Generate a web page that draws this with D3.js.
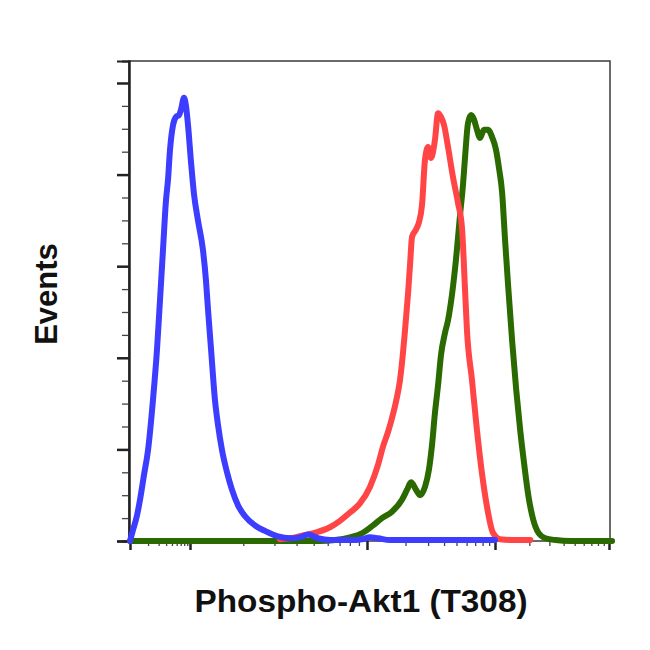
<!DOCTYPE html>
<html>
<head>
<meta charset="utf-8">
<script src="https://cdn.jsdelivr.net/npm/d3@7"></script>
<style>
  html, body { margin: 0; padding: 0; background: #fff; }
  svg { display: block; }
</style>
</head>
<body>
<div id="chart"></div>
<script>
// ---- Data (x: log10 fluorescence intensity, y: event count) ----
const xDecades = [0, 1, 2, 3, 4];
const yMajorTicks = [0, 100, 200, 300, 400, 500];

const blueLogX = [0, 0.05, 0.117, 0.167, 0.233, 0.3, 0.383, 0.45, 0.5, 0.55, 0.6, 0.633, 0.667, 0.717, 0.767, 0.817, 0.85, 0.9, 0.933, 0.967, 1.006, 1.023, 1.045, 1.073, 1.09, 1.102, 1.119, 1.141, 1.158, 1.181, 1.209, 1.237, 1.271, 1.311, 1.367, 1.424, 1.497, 1.565, 1.621, 1.667, 1.723, 1.791, 1.904, 1.972, 2.023, 2.086, 2.18, 3.0];
const blueCount = [0, 12, 28, 45, 72, 99, 154, 209, 263, 318, 372, 394, 427, 454, 463, 465, 471, 484, 475, 454, 413, 378, 350, 318, 285, 252, 209, 154, 127, 99, 75, 56, 39, 27, 17, 11, 5, 3, 4, 7, 3, 1, 1, 2, 4, 3, 1, 1];

const redLogX = [1.508, 1.593, 1.661, 1.723, 1.791, 1.847, 1.904, 1.96, 2.023, 2.086, 2.125, 2.164, 2.195, 2.234, 2.258, 2.273, 2.297, 2.32, 2.336, 2.352, 2.383, 2.406, 2.43, 2.453, 2.477, 2.5, 2.531, 2.555, 2.578, 2.602, 2.633, 2.672, 2.711, 2.742, 2.766, 2.781, 2.82, 2.859, 2.898, 2.938, 2.984, 3.044, 3.177, 3.31];
const redCount = [2, 4, 7, 10, 15, 22, 31, 41, 59, 83, 103, 119, 134, 157, 176, 194, 230, 269, 301, 332, 340, 348, 367, 416, 430, 418, 438, 467, 463, 454, 430, 397, 369, 342, 274, 230, 176, 121, 74, 37, 9, 2, 1, 1];

const greenLogX = [0, 1.734, 1.819, 1.904, 1.977, 2.047, 2.117, 2.195, 2.273, 2.313, 2.344, 2.383, 2.414, 2.453, 2.484, 2.508, 2.531, 2.555, 2.578, 2.609, 2.633, 2.664, 2.695, 2.727, 2.75, 2.766, 2.789, 2.813, 2.836, 2.859, 2.883, 2.914, 2.945, 2.977, 3.009, 3.035, 3.062, 3.088, 3.115, 3.15, 3.186, 3.221, 3.257, 3.292, 3.336, 3.381, 3.442, 3.531, 3.664, 4.027];
const greenCount = [0, 0, 1, 4, 9, 17, 25, 32, 45, 56, 64, 56, 50, 59, 78, 105, 140, 170, 203, 227, 241, 269, 307, 356, 389, 419, 456, 465, 460, 449, 440, 449, 449, 441, 427, 407, 381, 329, 279, 219, 165, 121, 83, 50, 23, 9, 3, 1, 0, 0];

const xLabel = "Phospho-Akt1 (T308)";
const yLabel = "Events";

// ---- Layout ----
const W = 650, H = 650;
const frame = { left: 129, right: 610, top: 61, bottom: 541 };

const svg = d3.select("#chart").append("svg")
  .attr("width", W).attr("height", H);

// piecewise (display-compressed) log axis
const x = d3.scaleLinear()
  .domain(xDecades)
  .range([130, 190, 367, 495, 609]);
const y = d3.scaleLinear()
  .domain([0, 524])
  .range([frame.bottom, frame.top]);

// ---- Frame ----
svg.append("rect")
  .attr("x", frame.left).attr("y", frame.top)
  .attr("width", frame.right - frame.left)
  .attr("height", frame.bottom - frame.top)
  .attr("fill", "none").attr("stroke", "#3a3a3a").attr("stroke-width", 1.5);

// ---- Y axis ticks ----
const yMinor = d3.range(0, 525, 25).filter(v => !yMajorTicks.includes(v));
const yAxisMajor = d3.axisLeft(y).tickValues(yMajorTicks).tickSize(12).tickFormat("");
const yAxisMinor = d3.axisLeft(y).tickValues(yMinor).tickSize(7).tickFormat("");
const gyMinor = svg.append("g").attr("transform", `translate(${frame.left},0)`).call(yAxisMinor);
const gyMajor = svg.append("g").attr("transform", `translate(${frame.left},0)`).call(yAxisMajor);
gyMinor.selectAll(".tick line").attr("stroke", "#444").attr("stroke-width", 1.3);
gyMajor.selectAll(".tick line").attr("stroke", "#222").attr("stroke-width", 2.5);
[gyMinor, gyMajor].forEach(g => g.select(".domain").attr("stroke", "#222").attr("stroke-width", 2));

// ---- X axis ticks (log decades with minors) ----
const xMinor = [];
xDecades.slice(0, -1).forEach(d => {
  for (let k = 2; k <= 9; k++) xMinor.push(d + Math.log10(k));
});
const xAxisMajor = d3.axisBottom(x).tickValues(xDecades).tickSize(9).tickFormat("");
const xAxisMinor = d3.axisBottom(x).tickValues(xMinor).tickSize(5).tickFormat("");
const gxMinor = svg.append("g").attr("transform", `translate(0,${frame.bottom})`).call(xAxisMinor);
const gxMajor = svg.append("g").attr("transform", `translate(0,${frame.bottom})`).call(xAxisMajor);
gxMinor.selectAll(".tick line").attr("stroke", "#444").attr("stroke-width", 1.3);
gxMajor.selectAll(".tick line").attr("stroke", "#222").attr("stroke-width", 2.5);
[gxMinor, gxMajor].forEach(g => g.select(".domain").remove());

// ---- Histograms ----
const line = d3.line()
  .x(d => x(d[0]))
  .y(d => y(d[1]))
  .curve(d3.curveMonotoneX);

const series = [
  { xs: greenLogX, ys: greenCount, color: "#2b6a00" },
  { xs: redLogX, ys: redCount, color: "#ff4545" },
  { xs: blueLogX, ys: blueCount, color: "#3d3dff" }
];
series.forEach(s => {
  const pts = s.xs.map((v, i) => [v, s.ys[i]]);
  svg.append("path")
    .datum(pts)
    .attr("d", line)
    .attr("fill", "none")
    .attr("stroke", s.color)
    .attr("stroke-width", 6)
    .attr("stroke-linejoin", "round")
    .attr("stroke-linecap", "round");
});

// ---- Labels ----
svg.append("text")
  .attr("x", 361).attr("y", 612)
  .attr("text-anchor", "middle")
  .attr("font-family", "'Liberation Sans', Arial, sans-serif")
  .attr("font-weight", "bold")
  .attr("font-size", 31)
  .attr("textLength", 333)
  .attr("lengthAdjust", "spacingAndGlyphs")
  .attr("fill", "#111")
  .text(xLabel);

svg.append("text")
  .attr("transform", "translate(57,294) rotate(-90)")
  .attr("text-anchor", "middle")
  .attr("font-family", "'Liberation Sans', Arial, sans-serif")
  .attr("font-weight", "bold")
  .attr("font-size", 31)
  .attr("fill", "#111")
  .text(yLabel);
</script>
</body>
</html>
